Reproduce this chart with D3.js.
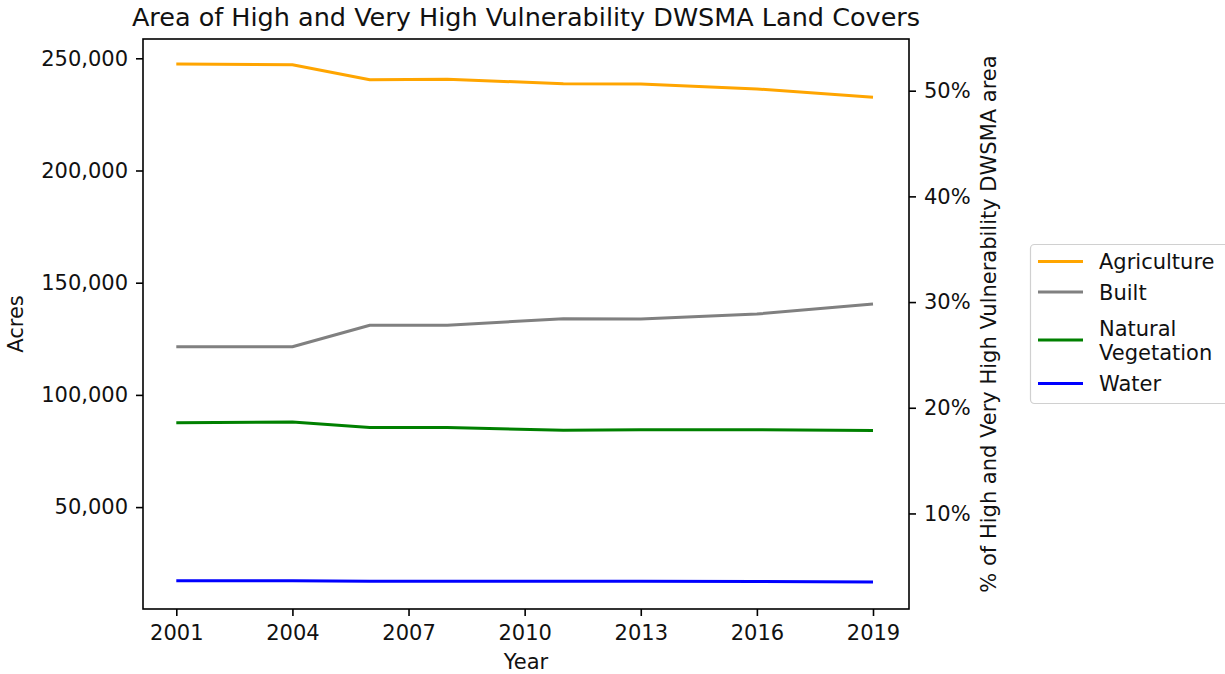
<!DOCTYPE html>
<html>
<head>
<meta charset="utf-8">
<script src="https://cdn.jsdelivr.net/npm/d3@7"></script>
<style>
  body { margin: 0; background: #fff; }
  text { font-family: "DejaVu Sans", sans-serif; fill: #111; }
</style>
</head>
<body>
<svg id="chart"></svg>
<script>
// data
const years = [2001, 2004, 2006, 2008, 2011, 2013, 2016, 2019];
const agriculture = [247460, 247150, 240460, 240640, 238680, 238550, 236320, 232620];
const built = [121480, 121480, 131020, 131020, 133960, 133820, 136050, 140510];
const naturalVeg = [87610, 87880, 85520, 85520, 84220, 84490, 84490, 84090];
const water = [17200, 17200, 17000, 17000, 17000, 17000, 16900, 16600];
const xTicks = [2001, 2004, 2007, 2010, 2013, 2016, 2019];
const yTicks = [50000, 100000, 150000, 200000, 250000];
const pctTicks = [10, 20, 30, 40, 50];

const series = [
  { name: ["Agriculture"], values: agriculture, color: "orange" },
  { name: ["Built"], values: built, color: "grey" },
  { name: ["Natural", "Vegetation"], values: naturalVeg, color: "green" },
  { name: ["Water"], values: water, color: "blue" }
];

const W = 1225, H = 674;
const FS = 21; // font size for ticks, labels, legend
const svg = d3.select("#chart").attr("width", W).attr("height", H);

// axes box
const box = { left: 143, right: 909, top: 39, bottom: 609 };

// scales
const x = d3.scaleLinear().domain([2001, 2019]).range([176.3, 873]);
const y = d3.scaleLinear().domain([4590, 258600]).range([box.bottom, box.top]);
const yPct = d3.scaleLinear().domain([0.96, 54.89]).range([box.bottom, box.top]);

// lines
const line = d3.line()
  .x((d, i) => x(years[i]))
  .y(d => y(d));

svg.append("g").selectAll("path")
  .data(series)
  .join("path")
  .attr("d", d => line(d.values))
  .attr("fill", "none")
  .attr("stroke", d => d.color)
  .attr("stroke-width", 3)
  .attr("stroke-linejoin", "round");

// axis helper so ticks look like matplotlib
function styleAxis(g) {
  g.select(".domain").remove();
  g.selectAll(".tick line").attr("stroke", "#000").attr("stroke-width", 1.6);
  g.selectAll(".tick text").attr("font-size", FS).attr("fill", "#111")
    .style("font-family", "DejaVu Sans");
}

svg.append("g")
  .attr("transform", `translate(0,${box.bottom})`)
  .call(d3.axisBottom(x).tickValues(xTicks).tickFormat(d3.format("d")).tickSize(7).tickPadding(9))
  .call(styleAxis);

svg.append("g")
  .attr("transform", `translate(${box.left},0)`)
  .call(d3.axisLeft(y).tickValues(yTicks).tickFormat(d3.format(",")).tickSize(7).tickPadding(8))
  .call(styleAxis);

svg.append("g")
  .attr("transform", `translate(${box.right},0)`)
  .call(d3.axisRight(yPct).tickValues(pctTicks).tickFormat(d => d + "%").tickSize(7).tickPadding(8))
  .call(styleAxis);

// frame
svg.append("rect")
  .attr("x", box.left).attr("y", box.top)
  .attr("width", box.right - box.left).attr("height", box.bottom - box.top)
  .attr("fill", "none").attr("stroke", "#000").attr("stroke-width", 1.6);

// title and labels
svg.append("text")
  .attr("x", (box.left + box.right) / 2).attr("y", 25.5)
  .attr("text-anchor", "middle").attr("font-size", 25.5)
  .text("Area of High and Very High Vulnerability DWSMA Land Covers");

svg.append("text")
  .attr("x", (box.left + box.right) / 2).attr("y", 669)
  .attr("text-anchor", "middle").attr("font-size", FS)
  .text("Year");

svg.append("text")
  .attr("transform", `translate(23,${(box.top + box.bottom) / 2}) rotate(-90)`)
  .attr("text-anchor", "middle").attr("font-size", FS)
  .text("Acres");

svg.append("text")
  .attr("transform", `translate(996,${(box.top + box.bottom) / 2}) rotate(-90)`)
  .attr("text-anchor", "middle").attr("font-size", FS)
  .text("% of High and Very High Vulnerability DWSMA area");

// legend
const legend = svg.append("g");
legend.append("rect")
  .attr("x", 1030.5).attr("y", 244.5)
  .attr("width", 200).attr("height", 159)
  .attr("rx", 4)
  .attr("fill", "#fff").attr("stroke", "#d0d0d0").attr("stroke-width", 1.2);

const handleY = [261.4, 292, 340, 383.5];
const entries = legend.selectAll("g.entry")
  .data(series)
  .join("g")
  .attr("class", "entry");

entries.append("line")
  .attr("x1", 1038).attr("x2", 1083)
  .attr("y1", (d, i) => handleY[i]).attr("y2", (d, i) => handleY[i])
  .attr("stroke", d => d.color).attr("stroke-width", 3);

entries.each(function(d, i) {
  const t = d3.select(this).append("text")
    .attr("x", 1099).attr("font-size", FS);
  const first = handleY[i] + 7.5 - (d.name.length - 1) * 12;
  d.name.forEach((s, k) => {
    t.append("tspan").attr("x", 1099).attr("y", first + k * 24).text(s);
  });
});
</script>
</body>
</html>
